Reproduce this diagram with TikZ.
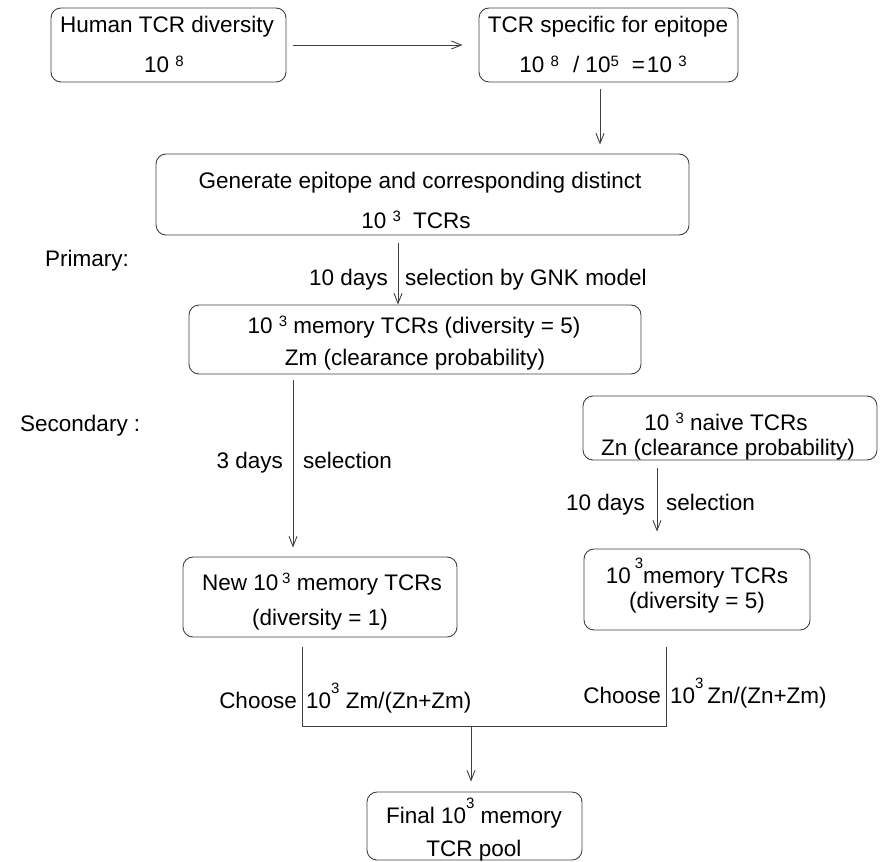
\documentclass[tikz,border=0pt]{standalone}
\usepackage{fontspec}
\setmainfont{Liberation Sans}
\usetikzlibrary{arrows.meta}
\newcommand\sxl[1]{\raisebox{6.5pt}{\fontsize{15}{15}\selectfont #1}}
\newcommand\sxh[1]{\raisebox{15pt}{\fontsize{15}{15}\selectfont #1}}
\tikzset{
  box/.style={draw=black!75, line width=0.9pt, rounded corners=10pt, inner sep=0pt},
  txt/.style={anchor=base, inner sep=0pt, font=\fontsize{22.5}{27}\selectfont},
  conn/.style={draw=black!75, line width=0.9pt},
  arr/.style={conn, -{Straight Barb[length=10pt,width=8pt]}}
}
\begin{document}
\begin{tikzpicture}[x=1pt,y=-1pt]
\useasboundingbox (0,0) rectangle (882,861);
% boxes
\node[box, minimum width=235pt, minimum height=74pt] (b1) at (168.5,45) {};
\node[box, minimum width=259pt, minimum height=74pt] (b2) at (608.5,45) {};
\node[box, minimum width=533pt, minimum height=81pt] (b3) at (422.5,194.5) {};
\node[box, minimum width=452pt, minimum height=69pt] (b4) at (415,339.5) {};
\node[box, minimum width=274pt, minimum height=80pt] (b5) at (320,597) {};
\node[box, minimum width=294pt, minimum height=64pt] (b6) at (730,428) {};
\node[box, minimum width=226pt, minimum height=81pt] (b7) at (697,589.5) {};
\node[box, minimum width=215pt, minimum height=68pt] (b8) at (474.5,826) {};
% box texts
\node[txt] (t1a) at (167,33) {Human TCR diversity};
\node[txt] (t1b) at (164,73) {10 \sxl{8}};
\node[txt] (t2a) at (608,33) {TCR specific for epitope};
\node[txt] (t2b) at (603,73) {10 \sxl{8}\hspace{14pt}/ 10\sxl{5}\hspace{13pt}=\hspace{2pt}10 \sxl{3}};
\node[txt] (t3a) at (420,188) {Generate epitope and corresponding distinct};
\node[txt] (t3b) at (416,228) {10 \sxl{3}\hspace{12pt}TCRs};
\node[txt] (t4a) at (414,333) {10 \sxl{3} memory TCRs (diversity = 5)};
\node[txt] (t4b) at (415,365) {Zm (clearance probability)};
\node[txt] (t5a) at (322,590) {New 10\,\sxl{3} memory TCRs};
\node[txt] (t5b) at (320,625) {(diversity = 1)};
\node[txt] (t6a) at (726,430) {10 \sxl{3} naive TCRs};
\node[txt] (t6b) at (728,455) {Zn (clearance probability)};
\node[txt] (t7a) at (697,583) {10\hspace{4pt}\sxh{3}memory TCRs};
\node[txt] (t7b) at (697,608) {(diversity = 5)};
\node[txt] (t8a) at (474,823) {Final 10\sxh{3} memory};
\node[txt] (t8b) at (474,856) {TCR pool};
% side labels
\node[txt, anchor=base west] (prim) at (45,266) {Primary:};
\node[txt, anchor=base west] (sec) at (20,431) {Secondary :};
% helper coordinates
\coordinate (x600) at (600,0);
\coordinate (x398) at (398,0);
\coordinate (x293) at (293,0);
\coordinate (x657) at (657,0);
\coordinate (jl) at (302,726);
\coordinate (jr) at (666,726);
\coordinate (jm) at (471,726);
% connectors
\draw[arr, shorten <=7pt, shorten >=16pt] (b1.east) -- (b2.west);
\draw[arr, shorten <=7pt, shorten >=9pt] (b2.south -| x600) -- (b3.north -| x600);
\draw[arr, shorten <=8pt] (b3.south -| x398) -- (b4.north -| x398);
\draw[arr, shorten <=6pt, shorten >=9pt] (b4.south -| x293) -- (b5.north -| x293);
\draw[arr, shorten <=8pt, shorten >=17pt] (b6.south -| x657) -- (b7.north -| x657);
\draw[conn, shorten <=10pt, shorten >=17pt] (b5.south -| jl) -- (jl) -- (jr) -- (b7.south -| jr);
\draw[arr, shorten >=10pt] (jm) -- (b8.north -| jm);
% connector labels
\node[txt, anchor=base east] (l1a) at (388,285) {10 days};
\node[txt, anchor=base west] (l1b) at (405,285) {selection by GNK model};
\node[txt, anchor=base east] (l2a) at (283,468) {3 days};
\node[txt, anchor=base west] (l2b) at (303,468) {selection};
\node[txt, anchor=base east] (l3a) at (645,510) {10 days};
\node[txt, anchor=base west] (l3b) at (666,510) {selection};
\node[txt, anchor=base east] (l4a) at (297,708) {Choose};
\node[txt, anchor=base west] (l4b) at (306,708) {10\sxh{3} Zm/(Zn+Zm)};
\node[txt, anchor=base east] (l5a) at (661,703) {Choose};
\node[txt, anchor=base west] (l5b) at (670,703) {10\sxh{3}\,Zn/(Zn+Zm)};
\end{tikzpicture}
\end{document}
